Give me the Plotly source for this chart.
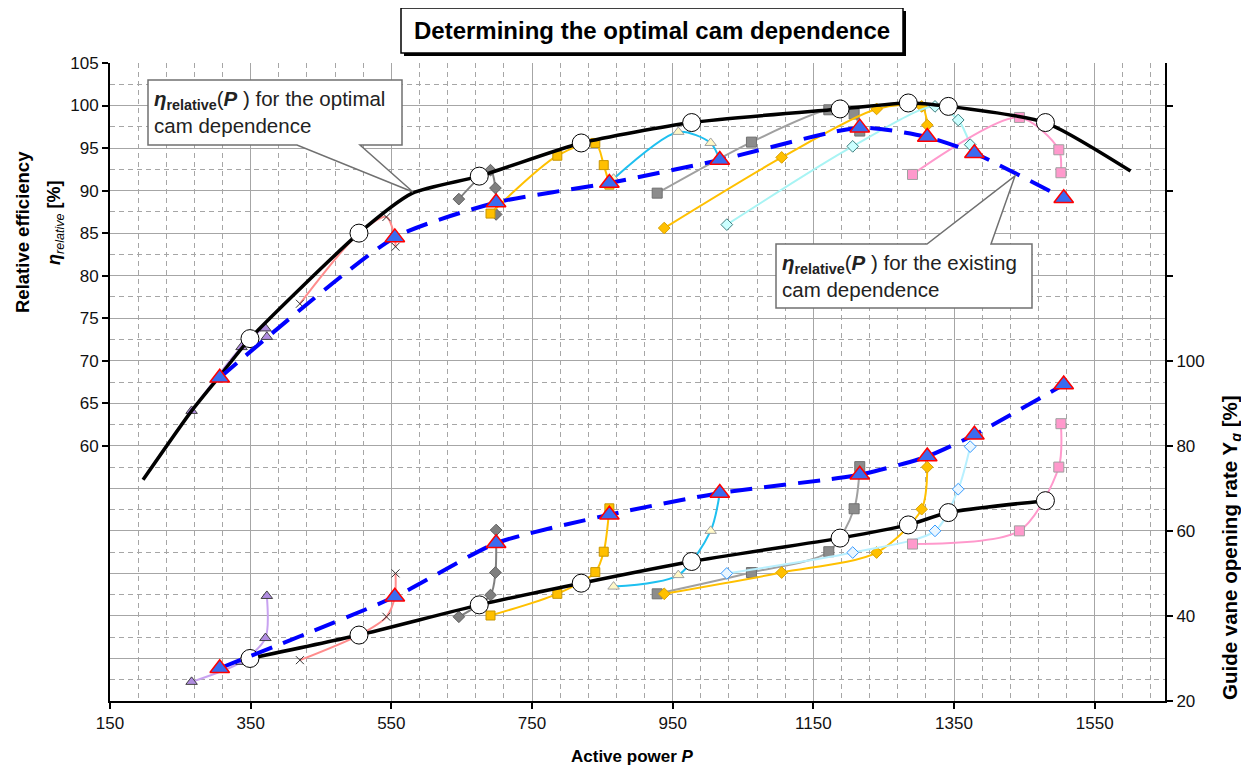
import plotly.graph_objects as go

# ---------------- data ----------------
# optimal cam dependence: efficiency curve (left axis) and guide-vane opening (right axis)
opt_curve_P = [197, 266, 306, 349, 504, 580, 675, 820, 977, 1188, 1285, 1342, 1480, 1601]
opt_curve_eta = [56.0, 64.1, 68.2, 72.6, 85.0, 89.7, 91.7, 95.6, 98.0, 99.6, 100.3, 99.9, 98.0, 92.3]
opt_pts_P = [349, 504, 675, 820, 977, 1188, 1285, 1342, 1480]
opt_pts_eta = [72.6, 85.0, 91.7, 95.6, 98.0, 99.6, 100.3, 99.9, 98.0]
opt_pts_Yg = [30.0, 35.5, 42.6, 47.7, 52.8, 58.3, 61.4, 64.3, 67.1]

# existing cam dependence
ex_P = [306, 555, 699, 860, 1017, 1216, 1312, 1379, 1506]
ex_eta = [68.0, 84.5, 88.6, 90.9, 93.6, 97.4, 96.3, 94.4, 89.1]
ex_Yg = [27.7, 44.5, 57.1, 63.8, 68.9, 73.2, 77.5, 82.6, 94.4]

# individual measurement series (constant blade angle)
s1_P = [266, 337, 371, 373]
s1_eta = [64.1, 71.6, 73.8, 72.8]
s1_Yg = [24.5, 29.2, 34.8, 44.7]

s2_P = [420, 504, 543, 555, 556]
s2_eta = [76.7, 85.0, 86.9, 84.5, 83.4]
s2_Yg = [29.6, 35.5, 39.8, 44.5, 50.0]

s3_P = [646, 691, 698, 699]
s3_eta = [89.0, 92.4, 90.3, 87.2]
s3_Yg = [39.8, 44.9, 50.2, 60.2]

s4_P = [691, 786, 840, 852, 860]
s4_eta = [87.3, 94.1, 95.6, 93.0, 90.7]
s4_Yg = [40.1, 45.2, 50.3, 55.1, 65.3]

s5_P = [866, 958, 1004, 1017]
s5_eta = [91.4, 96.9, 95.6, 93.6]
s5_Yg = [46.9, 49.6, 60.0, 68.9]

s6_P = [928, 1062, 1172, 1208, 1216]
s6_eta = [89.7, 95.7, 99.5, 99.0, 97.0]
s6_Yg = [45.2, 50.2, 55.1, 65.2, 75.1]

s7_P = [938, 1105, 1240, 1304, 1312]
s7_eta = [85.6, 93.9, 99.6, 99.9, 97.7]
s7_Yg = [45.2, 50.2, 54.9, 65.1, 75.0]

s8_P = [1027, 1206, 1323, 1356, 1373]
s8_eta = [86.0, 95.2, 99.9, 98.3, 95.4]
s8_Yg = [50.0, 54.9, 60.0, 69.8, 79.8]

s9_P = [1291, 1443, 1499, 1502]
s9_eta = [91.9, 98.6, 94.8, 92.1]
s9_Yg = [56.9, 60.0, 75.0, 85.2]

x_ticks = [150, 350, 550, 750, 950, 1150, 1350, 1550]
eta_ticks = [60, 65, 70, 75, 80, 85, 90, 95, 100, 105]
yg_ticks = [20, 40, 60, 80, 100, 120, 140, 160]
yg_ticktext = ["20", "40", "60", "80", "100", "", "", ""]

# ---------------- layout geometry (viewport pixels) ----------------
VW, VH = 1249, 766
BODY = 8                       # default page margin around the plot div
W, H = VW - BODY, VH - BODY
L, R, T, B = 110, 1165, 63, 701   # plot area in viewport pixels
FONT = "Liberation Sans, Arial, sans-serif"


def fx(p):
    return (p - L) / (R - L)


def fy(p):
    return (B - p) / (B - T)


fig = go.Figure()

series = [
    (s1_P, s1_eta, s1_Yg, "#C8A2F0", dict(symbol="triangle-up", size=10, color="#B08CE0", line=dict(color="#404040", width=1)),
     dict(symbol="triangle-up", size=10, color="#B08CE0", line=dict(color="#404040", width=1)), "#C8A2F0"),
    (s2_P, s2_eta, s2_Yg, "#FF8C8C", dict(symbol="x-thin", size=8, color="#333", line=dict(color="#333", width=1)),
     dict(symbol="x-thin", size=8, color="#333", line=dict(color="#333", width=1)), "#FF8C8C"),
    (s3_P, s3_eta, s3_Yg, "#808080", dict(symbol="diamond", size=9, color="#7F7F7F", line=dict(color="#606060", width=1)),
     dict(symbol="diamond", size=9, color="#7F7F7F", line=dict(color="#606060", width=1)), "#808080"),
    (s4_P, s4_eta, s4_Yg, "#FFC000", dict(symbol="square", size=9, color="#FFC000", line=dict(color="#C89600", width=1)),
     dict(symbol="square", size=9, color="#FFC000", line=dict(color="#C89600", width=1)), "#FFC000"),
    (s5_P, s5_eta, s5_Yg, "#1EC0F0", dict(symbol="triangle-up", size=10, color="#FFF8C8", line=dict(color="#A0A0A0", width=1)),
     dict(symbol="triangle-up", size=10, color="#FFF8C8", line=dict(color="#A0A0A0", width=1)), "#1EC0F0"),
    (s6_P, s6_eta, s6_Yg, "#A0A0A0", dict(symbol="square", size=10, color="#8C8C8C", line=dict(color="#707070", width=1)),
     dict(symbol="square", size=10, color="#8C8C8C", line=dict(color="#707070", width=1)), "#A0A0A0"),
    (s7_P, s7_eta, s7_Yg, "#FFC000", dict(symbol="diamond", size=9, color="#FFC000", line=dict(color="#D9A000", width=1)),
     dict(symbol="diamond", size=9, color="#FFC000", line=dict(color="#D9A000", width=1)), "#FFC000"),
    (s8_P, s8_eta, s8_Yg, "#A8F4F4", dict(symbol="diamond", size=9, color="#CCFFFF", line=dict(color="#3F7F7F", width=1)),
     dict(symbol="diamond", size=9, color="#EAF6FF", line=dict(color="#3399FF", width=1)), "#B8F0FF"),
    (s9_P, s9_eta, s9_Yg, "#FF99CC", dict(symbol="square", size=10, color="#FF99CC", line=dict(color="#A0A0A0", width=1)),
     dict(symbol="square", size=10, color="#FF99CC", line=dict(color="#A0A0A0", width=1)), "#FF99CC"),
]

for P, eta, yg, lc, m1, m2, lc2 in series:
    fig.add_trace(go.Scatter(x=P, y=eta, yaxis="y", mode="lines+markers",
                             line=dict(color=lc, width=2, shape="spline", smoothing=0.8),
                             marker=m1, showlegend=False, hoverinfo="skip"))
    fig.add_trace(go.Scatter(x=P, y=yg, yaxis="y2", mode="lines+markers",
                             line=dict(color=lc2, width=2, shape="spline", smoothing=0.8),
                             marker=m2, showlegend=False, hoverinfo="skip"))

# optimal cam dependence (black)
fig.add_trace(go.Scatter(x=opt_curve_P, y=opt_curve_eta, yaxis="y", mode="lines",
                         line=dict(color="black", width=3.5, shape="spline", smoothing=0.6),
                         showlegend=False, hoverinfo="skip"))
fig.add_trace(go.Scatter(x=opt_pts_P, y=opt_pts_Yg, yaxis="y2", mode="lines",
                         line=dict(color="black", width=3.5, shape="spline", smoothing=0.6),
                         showlegend=False, hoverinfo="skip"))
circ = dict(symbol="circle", size=18, color="white", line=dict(color="black", width=1))
fig.add_trace(go.Scatter(x=opt_pts_P, y=opt_pts_eta, yaxis="y", mode="markers", marker=circ,
                         showlegend=False, hoverinfo="skip"))
fig.add_trace(go.Scatter(x=opt_pts_P, y=opt_pts_Yg, yaxis="y2", mode="markers", marker=circ,
                         showlegend=False, hoverinfo="skip"))

# existing cam dependence (blue dashed)
tri = dict(symbol="triangle-up", size=17, color="#3A6CF0", line=dict(color="#FF0000", width=1.5))
fig.add_trace(go.Scatter(x=ex_P, y=ex_eta, yaxis="y", mode="lines+markers",
                         line=dict(color="#0000FF", width=4, dash="22px,12px", shape="spline", smoothing=0.6),
                         marker=tri, showlegend=False, hoverinfo="skip"))
fig.add_trace(go.Scatter(x=ex_P, y=ex_Yg, yaxis="y2", mode="lines+markers",
                         line=dict(color="#0000FF", width=4, dash="22px,12px", shape="spline", smoothing=0.6),
                         marker=tri, showlegend=False, hoverinfo="skip"))

# dummy trace carrying the grid axis
fig.add_trace(go.Scatter(x=[None], y=[None], yaxis="y3", mode="markers",
                         showlegend=False, hoverinfo="skip"))

grid_c = "#A6A6A6"
tickfont = dict(family=FONT, size=17, color="#111")

fig.update_layout(
    width=W, height=H,
    margin=dict(l=L - BODY, r=VW - R, t=T - BODY, b=VH - B, pad=0),
    paper_bgcolor="white", plot_bgcolor="white",
    font=dict(family=FONT, color="#111"),
    xaxis=dict(range=[150, 1650], tickmode="array", tickvals=x_ticks,
               showgrid=True, gridcolor=grid_c, gridwidth=1,
               minor=dict(dtick=40, tick0=150, showgrid=True, gridcolor=grid_c, griddash="5px,4px", ticks=""),
               ticks="outside", ticklen=6, tickcolor="black", tickwidth=1.5,
               showline=True, linecolor="black", linewidth=2, zeroline=False,
               tickfont=tickfont),
    yaxis=dict(range=[30, 105], tickmode="array", tickvals=eta_ticks, showgrid=False,
               ticks="outside", ticklen=6, tickcolor="black", tickwidth=1.5,
               showline=True, linecolor="black", linewidth=2, zeroline=False,
               tickfont=tickfont),
    yaxis2=dict(range=[20, 170], overlaying="y", side="right", tickmode="array",
                tickvals=yg_ticks, ticktext=yg_ticktext, showgrid=False,
                ticks="outside", ticklen=6, tickcolor="black", tickwidth=1.5,
                showline=True, linecolor="black", linewidth=2, zeroline=False,
                tickfont=tickfont),
    yaxis3=dict(range=[30, 105], overlaying="y", side="left", tickmode="linear", tick0=30, dtick=5,
                showgrid=True, gridcolor=grid_c, gridwidth=1, showticklabels=False, ticks="",
                showline=False, zeroline=False,
                minor=dict(dtick=2.5, tick0=30, showgrid=True, gridcolor=grid_c, griddash="5px,4px", ticks="")),
)

shapes = []
# title box with shadow
shapes.append(dict(type="rect", xref="paper", yref="paper", x0=fx(404), x1=fx(906), y0=fy(56), y1=fy(11),
                   fillcolor="black", line=dict(width=0), layer="above"))
shapes.append(dict(type="rect", xref="paper", yref="paper", x0=fx(401), x1=fx(903), y0=fy(53), y1=fy(8),
                   fillcolor="white", line=dict(color="black", width=1.5), layer="above"))


def callout(pts):
    s = "M " + " L ".join(f"{fx(a):.5f},{fy(b):.5f}" for a, b in pts) + " Z"
    return dict(type="path", xref="paper", yref="paper", path=s, fillcolor="white",
                line=dict(color="#707070", width=1.5), layer="above")


shapes.append(callout([(148, 80), (402, 80), (402, 145), (360, 145), (413, 192), (297, 145), (148, 145)]))
shapes.append(callout([(776, 244), (927, 244), (1015, 176), (991, 244), (1032, 244), (1032, 308), (776, 308)]))
fig.update_layout(shapes=shapes)

box_txt1 = "<b><i>η</i></b><b><sub>relative</sub></b>(<b><i>P</i></b> ) for the optimal<br>cam dependence"
box_txt2 = "<b><i>η</i></b><b><sub>relative</sub></b>(<b><i>P</i></b> ) for the existing<br>cam dependence"

annotations = [
    dict(text="<b>Determining the optimal cam dependence</b>", x=fx(652), y=fy(30), xref="paper", yref="paper",
         showarrow=False, xanchor="center", yanchor="middle", font=dict(family=FONT, size=24, color="black")),
    dict(text=box_txt1, x=fx(152), y=fy(112), xref="paper", yref="paper", showarrow=False, align="left",
         xanchor="left", yanchor="middle", font=dict(family=FONT, size=20.5, color="#222")),
    dict(text=box_txt2, x=fx(780), y=fy(276), xref="paper", yref="paper", showarrow=False, align="left",
         xanchor="left", yanchor="middle", font=dict(family=FONT, size=20.5, color="#222")),
    dict(text="<b>Active power <i>P</i></b>", x=fx(632), y=fy(756), xref="paper", yref="paper",
         showarrow=False, xanchor="center", yanchor="middle", font=dict(family=FONT, size=17, color="black")),
    dict(text="<b>Relative efficiency</b>", x=fx(22), y=fy(232), xref="paper", yref="paper", textangle=-90,
         showarrow=False, xanchor="center", yanchor="middle", font=dict(family=FONT, size=18.5, color="black")),
    dict(text="<b><i>η</i></b><i><sub>relative</sub></i> <b>[%]</b>", x=fx(56), y=fy(223), xref="paper",
         yref="paper", textangle=-90, showarrow=False, xanchor="center", yanchor="middle",
         font=dict(family=FONT, size=18, color="black")),
    dict(text="<b>Guide vane opening rate Y<sub><i>g</i></sub> [%]</b>", x=fx(1231), y=fy(548), xref="paper",
         yref="paper", textangle=-90, showarrow=False, xanchor="center", yanchor="middle",
         font=dict(family=FONT, size=20.5, color="black")),
]
fig.update_layout(annotations=annotations)

fig.write_html("out.html")
